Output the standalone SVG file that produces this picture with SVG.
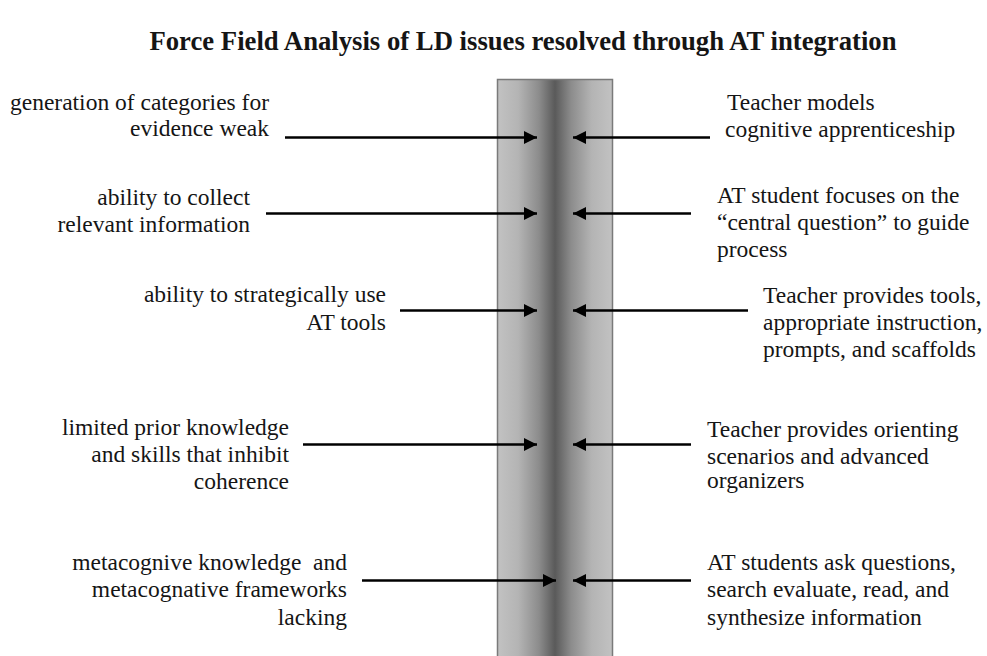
<svg xmlns="http://www.w3.org/2000/svg" width="987" height="656" viewBox="0 0 987 656">
<style>
  text { font-family: "Liberation Serif", "DejaVu Serif", serif; font-size: 23.5px; fill: #151515; }
  .title { font-weight: bold; font-size: 26.7px; }
  .l { text-anchor: end; }
  .r { text-anchor: start; }
  .arrow { stroke: #000; stroke-width: 2.6; fill: none; marker-end: url(#head); }
</style>
<defs>
  <linearGradient id="barGrad" x1="0" y1="0" x2="1" y2="0">
    <stop offset="0" stop-color="#c2c2c2"/>
    <stop offset="0.18" stop-color="#b4b4b4"/>
    <stop offset="0.36" stop-color="#8c8c8c"/>
    <stop offset="0.5" stop-color="#5a5a5a"/>
    <stop offset="0.64" stop-color="#8c8c8c"/>
    <stop offset="0.82" stop-color="#b4b4b4"/>
    <stop offset="1" stop-color="#c2c2c2"/>
  </linearGradient>
  <marker id="head" markerUnits="userSpaceOnUse" markerWidth="14" markerHeight="14" refX="13" refY="7" orient="auto">
    <path d="M0,0.5 L13,7 L0,13.5 z" fill="#000"/>
  </marker>
</defs>
<rect width="987" height="656" fill="#fff"/>
<text class="title" x="523" y="50" text-anchor="middle">Force Field Analysis of LD issues resolved through AT integration</text>

<g id="bar">
  <rect x="497.5" y="79.5" width="115" height="590" fill="url(#barGrad)" stroke="#7a7a7a" stroke-width="1.5"/>
</g>

<g id="connectors">
  <line class="arrow" x1="285" y1="137.5" x2="537" y2="137.5"/>
  <line class="arrow" x1="710" y1="137.5" x2="573" y2="137.5"/>
  <line class="arrow" x1="266" y1="213.5" x2="537" y2="213.5"/>
  <line class="arrow" x1="691" y1="213.5" x2="573" y2="213.5"/>
  <line class="arrow" x1="400" y1="310.5" x2="537" y2="310.5"/>
  <line class="arrow" x1="748" y1="310.5" x2="573" y2="310.5"/>
  <line class="arrow" x1="303" y1="444.5" x2="537" y2="444.5"/>
  <line class="arrow" x1="691" y1="444.5" x2="573" y2="444.5"/>
  <line class="arrow" x1="362" y1="580.5" x2="556" y2="580.5"/>
  <line class="arrow" x1="691" y1="580.5" x2="573" y2="580.5"/>
</g>

<g id="left1"><text class="l" x="269" y="110">generation of categories for</text><text class="l" x="269" y="136">evidence weak</text></g>
<g id="left2"><text class="l" x="250" y="205">ability to collect</text><text class="l" x="250" y="232">relevant information</text></g>
<g id="left3"><text class="l" x="386" y="302">ability to strategically use</text><text class="l" x="386" y="330">AT tools</text></g>
<g id="left4"><text class="l" x="289" y="435">limited prior knowledge</text><text class="l" x="289" y="462">and skills that inhibit</text><text class="l" x="289" y="489">coherence</text></g>
<g id="left5"><text class="l" x="347" y="570" xml:space="preserve">metacognive knowledge  and</text><text class="l" x="347" y="597">metacognative frameworks</text><text class="l" x="347" y="625">lacking</text></g>

<g id="right1"><text class="r" x="727" y="110">Teacher models</text><text class="r" x="725" y="137">cognitive apprenticeship</text></g>
<g id="right2"><text class="r" x="717" y="203">AT student focuses on the</text><text class="r" x="717" y="230">“central question” to guide</text><text class="r" x="717" y="257">process</text></g>
<g id="right3"><text class="r" x="763" y="303">Teacher provides tools,</text><text class="r" x="763" y="330">appropriate instruction,</text><text class="r" x="763" y="357">prompts, and scaffolds</text></g>
<g id="right4"><text class="r" x="707" y="437">Teacher provides orienting</text><text class="r" x="707" y="464">scenarios and advanced</text><text class="r" x="707" y="488">organizers</text></g>
<g id="right5"><text class="r" x="707" y="570">AT students ask questions,</text><text class="r" x="707" y="597">search evaluate, read, and</text><text class="r" x="707" y="625">synthesize information</text></g>
</svg>
